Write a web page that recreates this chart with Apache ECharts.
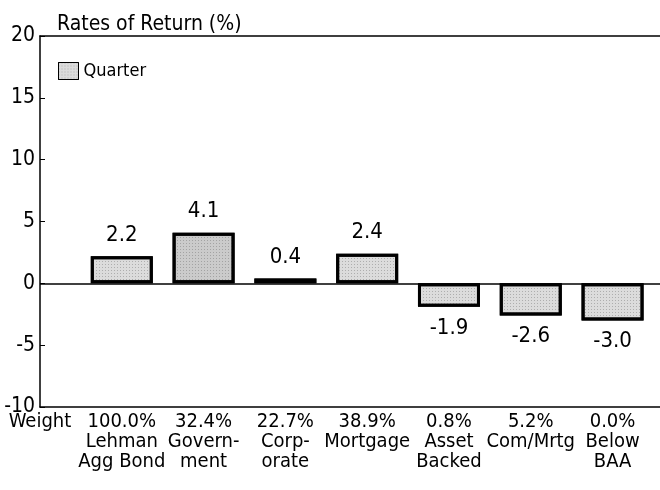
<!DOCTYPE html>
<html>
<head>
<meta charset="utf-8">
<script src="https://cdn.jsdelivr.net/npm/echarts@6/dist/echarts.min.js"></script>
<style>
  html, body { margin: 0; padding: 0; background: #fff; }
  #chart { width: 660px; height: 490px; }
</style>
</head>
<body>
<div id="chart"></div>
<script>
var categories = ['Lehman\nAgg Bond', 'Govern-\nment', 'Corp-\norate', 'Mortgage', 'Asset\nBacked', 'Com/Mrtg', 'Below\nBAA'];
var weights = ['100.0%', '32.4%', '22.7%', '38.9%', '0.8%', '5.2%', '0.0%'];
var quarterReturns = [2.2, 4.1, 0.4, 2.4, -1.9, -2.6, -3.0];
var rowLabel = 'Weight';
var yTicks = [-10, -5, 0, 5, 10, 15, 20];

var FONT = '"Liberation Sans Narrow", "Arial Narrow", "DejaVu Sans Condensed", sans-serif';

// stippled grey look of the printed bars
var stipple = {
    symbol: 'rect',
    symbolSize: 1,
    color: 'rgba(90, 90, 90, 0.35)',
    dashArrayX: [1, 2],
    dashArrayY: [1, 2],
    rotation: 0
};

function buildBars() {
    return quarterReturns.map(function (v, i) {
        var item = {
            value: [i + 1, v],
            label: { position: v < 0 ? 'bottom' : 'top' }
        };
        if (i === 1) {
            item.itemStyle = { color: '#cbcbcb' };
        }
        return item;
    });
}

var chartDom = document.getElementById('chart');
var chart = echarts.init(chartDom);

var option = {
    animation: false,
    backgroundColor: '#fff',
    textStyle: { fontFamily: FONT, color: '#000' },
    title: {
        text: 'Rates of Return (%)',
        left: 57,
        top: 14,
        padding: 0,
        textStyle: { fontFamily: FONT, fontSize: 21, fontWeight: 'normal', color: '#000' }
    },
    legend: {
        left: 58,
        top: 62,
        padding: 0,
        itemWidth: 20,
        itemHeight: 17,
        itemGap: 10,
        icon: 'rect',
        itemStyle: { borderWidth: 1, borderColor: '#000' },
        textStyle: { fontFamily: FONT, fontSize: 18, color: '#000' },
        data: ['Quarter']
    },
    grid: { left: 40, right: 0, top: 36, bottom: 83 },
    xAxis: [{
        type: 'value',
        position: 'bottom',
        min: 0,
        max: 7.58,
        interval: 1,
        axisLine: { onZero: false, lineStyle: { color: '#000', width: 1.5 } },
        axisTick: { show: false },
        splitLine: { show: false },
        axisLabel: {
            margin: 5,
            showMaxLabel: false,
            fontFamily: FONT,
            fontSize: 20,
            lineHeight: 20,
            color: '#000',
            formatter: function (v) {
                if (v === 0) return rowLabel;
                if (v >= 1 && v <= 7 && Math.round(v) === v) {
                    return weights[v - 1] + '\n' + categories[v - 1];
                }
                return '';
            }
        }
    }, {
        type: 'value',
        position: 'top',
        min: 0,
        max: 7.58,
        axisLine: { onZero: false, lineStyle: { color: '#000', width: 1.5 } },
        axisTick: { show: false },
        axisLabel: { show: false },
        splitLine: { show: false }
    }],
    yAxis: {
        type: 'value',
        min: yTicks[0],
        max: yTicks[yTicks.length - 1],
        interval: 5,
        axisLine: { show: true, lineStyle: { color: '#000', width: 1.5 } },
        axisTick: { show: true, inside: true, length: 5, lineStyle: { color: '#000' } },
        splitLine: { show: false },
        axisLabel: { margin: 5, fontFamily: FONT, fontSize: 21, color: '#000' }
    },
    series: [{
        name: 'Quarter',
        type: 'bar',
        xAxisIndex: 0,
        barWidth: 62,
        clip: false,
        itemStyle: { color: '#dcdcdc', borderColor: '#000', borderWidth: 3, decal: stipple },
        label: {
            show: true,
            distance: 10,
            fontFamily: FONT,
            fontSize: 22,
            color: '#000',
            formatter: function (p) { return p.value[1].toFixed(1); }
        },
        markLine: {
            silent: true,
            symbol: 'none',
            label: { show: false },
            lineStyle: { color: '#000', width: 1.5, type: 'solid' },
            data: [{ yAxis: 0 }]
        },
        data: buildBars()
    }]
};

chart.setOption(option);
</script>
</body>
</html>
